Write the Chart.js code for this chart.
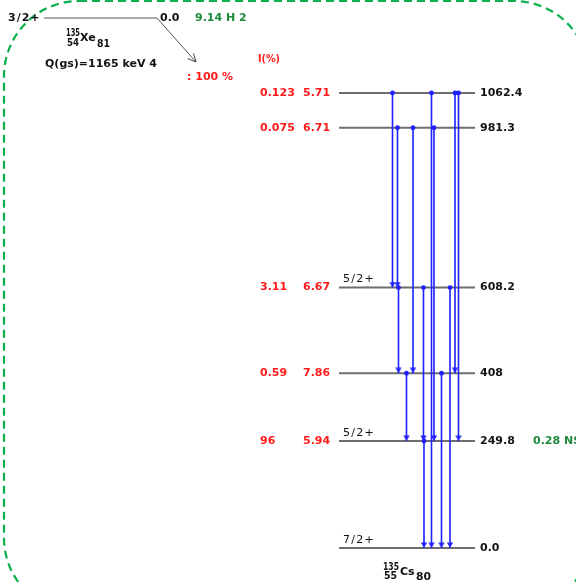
<!DOCTYPE html>
<html>
<head>
<meta charset="utf-8">
<script src="https://cdn.jsdelivr.net/npm/chart.js@4.4.1/dist/chart.umd.min.js"></script>
<style>
  html, body { margin: 0; padding: 0; background: #fff; }
  canvas { display: block; }
</style>
</head>
<body>
<canvas id="scheme" width="576" height="584"></canvas>
<script>
// 135Xe beta- decay into 135Cs levels
const levelEnergies = [0.0, 249.8, 408.0, 608.2, 981.3, 1062.4];
const levelLabels = ['0.0', '249.8', '408', '608.2', '981.3', '1062.4'];
const levelSpins = ['7/2+', '5/2+', '', '5/2+', '', ''];
const levelHalfLives = ['', '0.28 NS', '', '', '', ''];
const betaIntensities = ['', '96', '0.59', '3.11', '0.075', '0.123'];
const logFtValues = ['', '5.94', '7.86', '6.67', '6.71', '5.71'];

// gamma transitions, start level -> end level (keV)
const gammaFrom = [1062.4, 1062.4, 1062.4, 1062.4, 981.3, 981.3, 981.3, 608.2, 608.2, 608.2, 408.0, 408.0, 249.8];
const gammaTo = [608.2, 0.0, 408.0, 249.8, 608.2, 408.0, 249.8, 408.0, 249.8, 0.0, 249.8, 0.0, 0.0];

const parentSpin = '3/2+';
const parentLevel = '0.0';
const parentHalfLife = '9.14 H 2';
const qValue = 'Q(gs)=1165 keV 4';
const parentBranch = ': 100 %';

// layout (pixels across, energy rows)
const gammaLanes = [392.5, 431.5, 455, 458.5, 397.5, 413, 434, 398.5, 423.5, 450, 406.5, 441.5, 424];
const LEVEL_X = [339, 475];
const PARENT_X = [44, 157];
const PARENT_ROW = 1237.5;
const BETA_TIP = { x: 196, e: 1134.8 };

const BLUE = '#1f1fff';
const GRAY = '#6e6e6e';
const RED = '#ff1a1a';
const GREEN = '#1e8a3a';

// arrow head image, tip sits at the image centre
function makeArrowHead() {
  const c = document.createElement('canvas');
  c.width = 8; c.height = 12;
  const g = c.getContext('2d');
  g.fillStyle = BLUE;
  g.beginPath();
  g.moveTo(0.8, 0.5);
  g.lineTo(7.2, 0.5);
  g.lineTo(4, 5.6);
  g.closePath();
  g.fill();
  return c;
}
const arrowHead = makeArrowHead();

const datasets = [];
gammaFrom.forEach((from, i) => {
  datasets.push({
    data: [{ x: gammaLanes[i], y: from }, { x: gammaLanes[i], y: gammaTo[i] }],
    showLine: true,
    borderColor: BLUE,
    borderWidth: 1.6,
    pointStyle: ['circle', arrowHead],
    pointRadius: [2.4, 3],
    pointBackgroundColor: BLUE,
    pointBorderWidth: 0
  });
});
levelEnergies.forEach(e => {
  datasets.push({
    data: [{ x: LEVEL_X[0], y: e }, { x: LEVEL_X[1], y: e }],
    showLine: true,
    borderColor: GRAY,
    borderWidth: 2,
    pointRadius: 0
  });
});
datasets.push({
  data: [{ x: PARENT_X[0], y: PARENT_ROW }, { x: PARENT_X[1], y: PARENT_ROW }, { x: BETA_TIP.x, y: BETA_TIP.e }],
  showLine: true,
  borderColor: '#555',
  borderWidth: 1,
  pointRadius: 0
});
const betaIndex = datasets.length - 1;

function txt(ctx, s, x, y, font, color, spacing) {
  ctx.font = font;
  ctx.fillStyle = color;
  ctx.textAlign = 'left';
  ctx.textBaseline = 'middle';
  ctx.letterSpacing = spacing || '0px';
  ctx.fillText(s, x, y);
  ctx.letterSpacing = '0px';
}

// text squeezed to a given width
function txtFit(ctx, s, x, y, font, color, w) {
  ctx.save();
  ctx.font = font;
  const m = ctx.measureText(s).width;
  ctx.translate(x, y);
  ctx.scale(w / m, 1);
  txt(ctx, s, 0, 0, font, color);
  ctx.restore();
}

const frame = {
  id: 'frame',
  beforeDraw(chart) {
    const ctx = chart.ctx;
    const x = 4, y = 1, w = 585, h = 612, r = 75;
    ctx.save();
    ctx.strokeStyle = '#0cb04c';
    ctx.lineWidth = 2.2;
    ctx.setLineDash([8, 5]);
    ctx.beginPath();
    ctx.moveTo(x + r, y);
    ctx.lineTo(x + w - r, y);
    ctx.arcTo(x + w, y, x + w, y + r, r);
    ctx.lineTo(x + w, y + h - r);
    ctx.arcTo(x + w, y + h, x + w - r, y + h, r);
    ctx.lineTo(x + r, y + h);
    ctx.arcTo(x, y + h, x, y + h - r, r);
    ctx.lineTo(x, y + r);
    ctx.arcTo(x, y, x + r, y, r);
    ctx.stroke();
    ctx.restore();
  }
};

const labels = {
  id: 'labels',
  afterDatasetsDraw(chart) {
    const ctx = chart.ctx;
    const ys = chart.scales.y;
    const xs = chart.scales.x;
    const B = 'bold 11px "DejaVu Sans"';
    ctx.save();

    levelEnergies.forEach((e, i) => {
      const py = ys.getPixelForValue(e);
      txt(ctx, levelLabels[i], xs.getPixelForValue(LEVEL_X[1]) + 5, py, B, '#111');
      if (levelSpins[i]) txt(ctx, levelSpins[i], xs.getPixelForValue(LEVEL_X[0]) + 4, py - 8, '11px "DejaVu Sans"', '#111', '1.3px');
      if (levelHalfLives[i]) txt(ctx, levelHalfLives[i], 533, py, B, GREEN);
      if (betaIntensities[i]) txt(ctx, betaIntensities[i], 260, py, B, RED);
      if (logFtValues[i]) txt(ctx, logFtValues[i], 303, py, B, RED);
    });
    txtFit(ctx, 'I(%)', 258, 59, 'bold 10px "DejaVu Sans"', RED, 22);

    // parent
    const pRow = ys.getPixelForValue(PARENT_ROW);
    txt(ctx, parentSpin, 8, pRow, B, '#111', '1px');
    txt(ctx, parentLevel, 160, pRow, B, '#111');
    txt(ctx, parentHalfLife, 195, pRow, B, GREEN);
    txtFit(ctx, '135', 66, 33, B, '#111', 14);
    txtFit(ctx, '54', 67, 43, B, '#111', 12);
    txt(ctx, 'Xe', 80, 38, B, '#111');
    txtFit(ctx, '81', 97, 44, B, '#111', 13);
    txt(ctx, qValue, 45, 64, B, '#111');
    txt(ctx, parentBranch, 187, 77, B, RED);

    // daughter
    txtFit(ctx, '135', 383, 567, B, '#111', 16);
    txtFit(ctx, '55', 384, 576, B, '#111', 13);
    txt(ctx, 'Cs', 400, 572, B, '#111');
    txtFit(ctx, '80', 416, 577, B, '#111', 15);

    // open head on the beta arrow
    const pts = chart.getDatasetMeta(betaIndex).data;
    const a = pts[1], t = pts[2];
    const ang = Math.atan2(t.y - a.y, t.x - a.x);
    ctx.strokeStyle = '#444';
    ctx.lineWidth = 1;
    ctx.beginPath();
    [-0.45, 0.45].forEach(d => {
      ctx.moveTo(t.x, t.y);
      ctx.lineTo(t.x - 9 * Math.cos(ang + d), t.y - 9 * Math.sin(ang + d));
    });
    ctx.stroke();
    ctx.restore();
  }
};

new Chart(document.getElementById('scheme'), {
  type: 'scatter',
  data: { datasets },
  options: {
    responsive: false,
    animation: false,
    layout: { padding: 0, autoPadding: false },
    plugins: { legend: { display: false }, tooltip: { enabled: false } },
    scales: {
      x: { type: 'linear', display: false, min: 0, max: 576 },
      y: { type: 'linear', display: false, min: -84.06, max: 1279.6 }
    }
  },
  plugins: [frame, labels]
});
</script>
</body>
</html>
